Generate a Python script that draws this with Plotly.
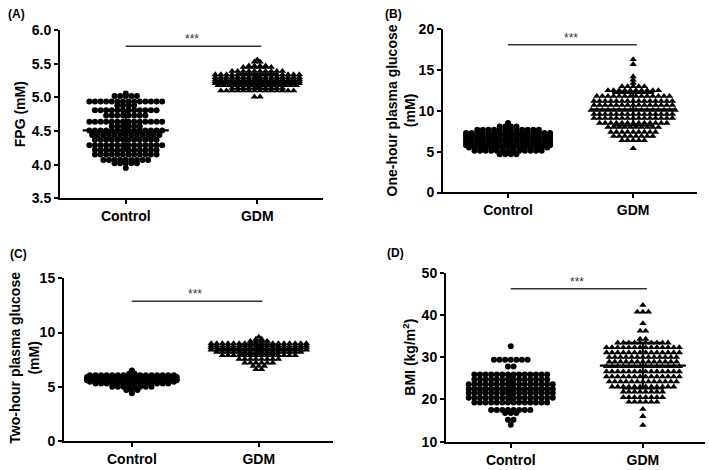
import numpy as np
import plotly.graph_objects as go

groups = ["Control", "GDM"]

# ---------------- data (row levels, with number of subjects at each level)
# Panel A: FPG (mM)
A_ctrl_levels = [5.06, 5.02, 4.94, 4.88, 4.81, 4.73, 4.64, 4.57, 4.51, 4.44, 4.37, 4.29, 4.22, 4.15, 4.07, 4.02, 3.95]
A_ctrl_counts = [1, 5, 14, 4, 12, 8, 14, 6, 14, 13, 12, 14, 12, 12, 9, 5, 1]
A_gdm_levels = [5.56, 5.53, 5.47, 5.45, 5.39, 5.34, 5.30, 5.27, 5.24, 5.21, 5.18, 5.14, 5.10, 5.01]
A_gdm_counts = [1, 2, 4, 6, 10, 16, 16, 16, 16, 16, 15, 10, 14, 2]
A_mean = [4.51, 5.24]
A_sd = [0.30, 0.11]

# Panel B: one-hour plasma glucose (mM)
B_ctrl_levels = [8.5, 8.1, 7.7, 7.3, 7.0, 6.7, 6.4, 6.1, 5.8, 5.5, 5.1, 4.7]
B_ctrl_counts = [1, 4, 12, 16, 16, 16, 16, 16, 16, 15, 13, 4]
B_gdm_levels = [16.3, 15.7, 14.2, 13.8, 13.4, 13.0, 12.5, 11.8, 11.2, 10.7, 10.1, 9.6, 9.1, 8.5, 8.0, 7.4, 6.9, 6.4, 5.4]
B_gdm_counts = [1, 1, 1, 1, 1, 5, 10, 14, 15, 15, 16, 15, 15, 13, 10, 9, 8, 5, 1]
B_mean = [6.4, 10.2]
B_sd = [0.7, 2.0]

# Panel C: two-hour plasma glucose (mM)
C_ctrl_levels = [6.5, 6.2, 6.05, 5.9, 5.75, 5.6, 5.45, 5.3, 5.0, 4.7, 4.4]
C_ctrl_counts = [1, 2, 16, 17, 17, 17, 16, 14, 8, 3, 1]
C_gdm_levels = [9.6, 9.4, 9.2, 9.0, 8.8, 8.6, 8.4, 8.2, 7.9, 7.55, 7.2, 6.9, 6.6]
C_gdm_counts = [1, 2, 4, 18, 18, 18, 18, 16, 14, 8, 6, 3, 2]
C_mean = [5.65, 8.45]
C_sd = [0.35, 0.45]

# Panel D: BMI (kg/m2)
D_ctrl_levels = [32.6, 29.4, 27.8, 25.9, 24.7, 23.6, 22.5, 21.5, 20.4, 19.3, 17.5, 16.8, 15.2, 14.0]
D_ctrl_counts = [1, 7, 2, 14, 14, 16, 16, 16, 16, 14, 8, 3, 2, 1]
D_gdm_levels = [42.3, 40.7, 38.0, 36.2, 34.3, 33.4, 32.3, 31.1, 30.0, 28.9, 27.8, 26.6, 25.4, 24.2, 23.0, 21.8, 20.5, 19.4, 17.7, 16.0, 13.9]
D_gdm_counts = [1, 3, 1, 2, 2, 10, 14, 14, 13, 13, 14, 14, 14, 13, 12, 8, 8, 6, 1, 1, 1]
D_mean = [22.6, 28.0]
D_sd = [3.4, 5.4]

y_titles = ["FPG (mM)", "One-hour plasma glucose<br>(mM)",
            "Two-hour plasma glucose<br>(mM)", "BMI (kg/m<sup>2</sup>)"]
panel_letters = ["(A)", "(B)", "(C)", "(D)"]
sig_level = [5.76, 18.1, 12.9, 46.2]

# ---------------- layout settings (pixels in the 709x470 page)
W, H = 709, 470
panels = [
    dict(data=[(A_ctrl_levels, A_ctrl_counts), (A_gdm_levels, A_gdm_counts)], mean=A_mean, sd=A_sd,
         px=(60, 323), py=(23, 197), xr=[-0.5, 1.5], yr=[3.5, 6.0], dtick=0.5, fmt=".1f",
         title_xy=(20, 110), letter_xy=(16, 6)),
    dict(data=[(B_ctrl_levels, B_ctrl_counts), (B_gdm_levels, B_gdm_counts)], mean=B_mean, sd=B_sd,
         px=(443, 697), py=(22, 191), xr=[-0.52, 1.51], yr=[0, 20], dtick=5, fmt="d",
         title_xy=(401, 106), letter_xy=(393, 6)),
    dict(data=[(C_ctrl_levels, C_ctrl_counts), (C_gdm_levels, C_gdm_counts)], mean=C_mean, sd=C_sd,
         px=(64, 333), py=(280, 448), xr=[-0.535, 1.585], yr=[0, 15], dtick=5, fmt="d",
         title_xy=(24, 362), letter_xy=(18, 255)),
    dict(data=[(D_ctrl_levels, D_ctrl_counts), (D_gdm_levels, D_gdm_counts)], mean=D_mean, sd=D_sd,
         px=(446, 705), py=(274, 449), xr=[-0.49, 1.47], yr=[10, 50], dtick=10, fmt="d",
         title_xy=(409, 362), letter_xy=(395, 254)),
]

FONT = "Liberation Sans, Arial, sans-serif"
symbols = ["circle", "triangle-up"]
sizes = [6, 6.5]
dot_px = 5.6

fig = go.Figure()
layout = dict(width=W, height=H, margin=dict(l=0, r=0, t=0, b=0),
              paper_bgcolor="white", plot_bgcolor="white", showlegend=False,
              font=dict(family=FONT, color="black"))
annotations = []

for k, p in enumerate(panels):
    sfx = "" if k == 0 else str(k + 1)
    xa, ya = "x" + sfx, "y" + sfx
    px_per_unit = (p["px"][1] - p["px"][0]) / (p["xr"][1] - p["xr"][0])
    step = dot_px / px_per_unit
    for g in range(2):
        levels, counts = p["data"][g]
        xs, ys = [], []
        for lv, n in zip(levels, counts):
            for i in range(n):
                xs.append(g + (i - (n - 1) / 2) * step)
                ys.append(lv)
        fig.add_trace(go.Scatter(x=xs, y=ys, mode="markers", xaxis=xa, yaxis=ya,
                                 marker=dict(symbol=symbols[g], size=sizes[g], color="black",
                                             line=dict(width=0)),
                                 hoverinfo="skip"))
        m, s = p["mean"][g], p["sd"][g]
        hw_mean, hw_cap = 43 / px_per_unit, 21 / px_per_unit
        fig.add_trace(go.Scatter(x=[g - hw_mean, g + hw_mean], y=[m, m], mode="lines",
                                 xaxis=xa, yaxis=ya, line=dict(color="black", width=2.2),
                                 hoverinfo="skip"))
        fig.add_trace(go.Scatter(x=[g - hw_cap, g + hw_cap, None, g, g, None, g - hw_cap, g + hw_cap],
                                 y=[m + s, m + s, None, m + s, m - s, None, m - s, m - s],
                                 mode="lines", xaxis=xa, yaxis=ya,
                                 line=dict(color="black", width=2), hoverinfo="skip"))
    sy = sig_level[k]
    fig.add_trace(go.Scatter(x=[0, 1.03], y=[sy, sy], mode="lines", xaxis=xa, yaxis=ya,
                             line=dict(color="#333333", width=1.5), hoverinfo="skip"))
    annotations.append(dict(x=0.5, y=sy, xref=xa, yref=ya, text="***", showarrow=False,
                            yanchor="bottom", yshift=-2, font=dict(size=12, color="#333333")))

    layout["xaxis" + sfx] = dict(domain=[p["px"][0] / W, p["px"][1] / W], anchor=ya,
                                 range=p["xr"], tickvals=[0, 1], ticktext=groups,
                                 showline=True, linecolor="black", linewidth=2,
                                 ticks="outside", ticklen=4, tickwidth=2, tickcolor="black",
                                 showgrid=False, zeroline=False, fixedrange=True,
                                 tickfont=dict(size=14, family=FONT, weight="bold"))
    layout["yaxis" + sfx] = dict(domain=[1 - p["py"][1] / H, 1 - p["py"][0] / H], anchor=xa,
                                 range=p["yr"], dtick=p["dtick"], tick0=p["yr"][0],
                                 tickformat=p["fmt"],
                                 showline=True, linecolor="black", linewidth=2,
                                 ticks="outside", ticklen=4, tickwidth=2, tickcolor="black",
                                 showgrid=False, zeroline=False, fixedrange=True,
                                 tickfont=dict(size=14, family=FONT, weight="bold"))
    tx, ty = p["title_xy"]
    annotations.append(dict(x=tx / W, y=1 - ty / H, xref="paper", yref="paper",
                            text=y_titles[k], textangle=-90, showarrow=False,
                            xanchor="center", yanchor="middle",
                            font=dict(size=14, family=FONT, weight="bold")))
    lx, ly = p["letter_xy"]
    annotations.append(dict(x=lx / W, y=1 - ly / H, xref="paper", yref="paper",
                            text=panel_letters[k], showarrow=False,
                            xanchor="center", yanchor="middle",
                            font=dict(size=12, family=FONT, weight="bold")))

layout["annotations"] = annotations
fig.update_layout(**layout)
fig.write_html("out.html", config={"displayModeBar": False},
               post_script="document.body.style.margin='0px';")
